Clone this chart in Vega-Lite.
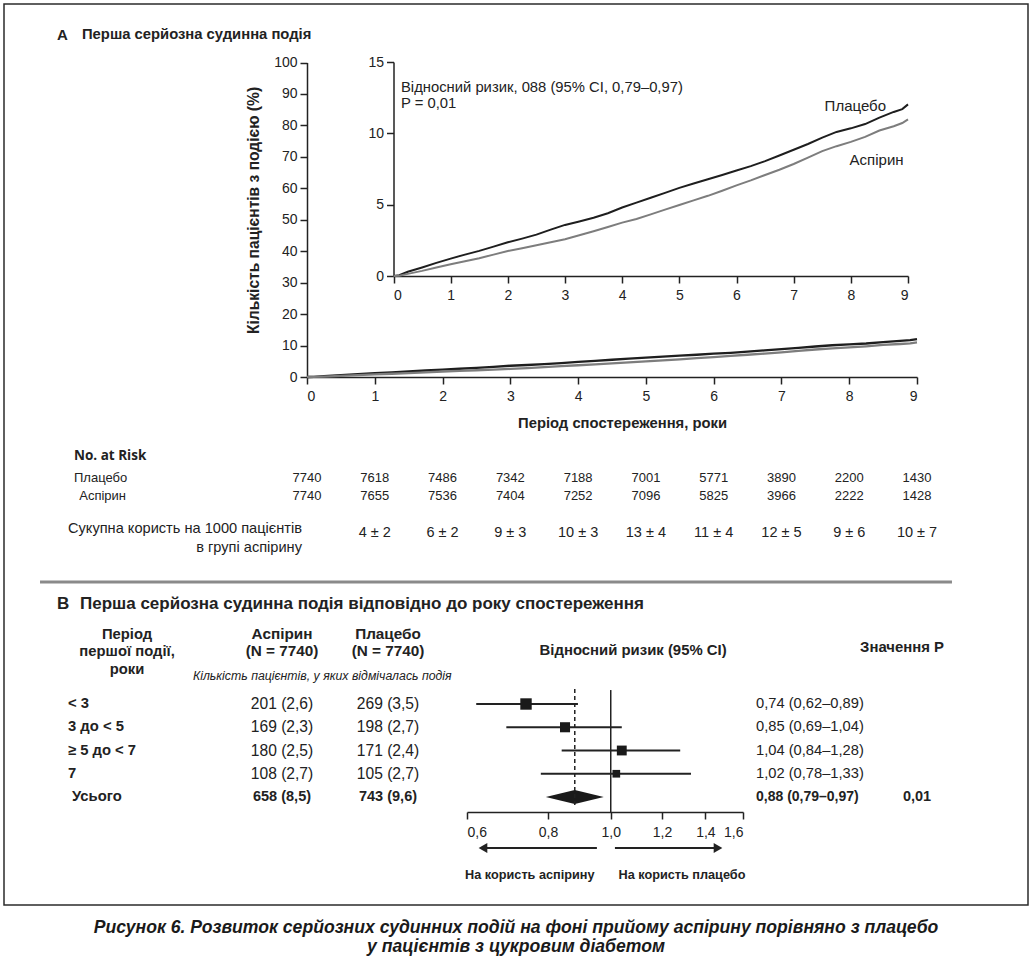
{
  "$schema": "https://vega.github.io/schema/vega-lite/v6.json",
  "width": 1024,
  "height": 901,
  "autosize": {"type": "none"},
  "padding": {"left": 4, "top": 4, "right": 4, "bottom": 52},
  "background": "white",
  "config": {
    "view": {"stroke": "#2b2b2b", "strokeWidth": 1.5},
    "font": "Liberation Sans, Arial, sans-serif",
    "text": {"font": "Liberation Sans, Arial, sans-serif", "color": "#222222", "fontSize": 13},
    "axis": {"grid": false, "domainColor": "#222222", "domainWidth": 1.5, "tickColor": "#222222", "tickWidth": 1.5, "tickSize": 7, "labelFont": "Liberation Sans, Arial, sans-serif", "labelFontSize": 14, "labelColor": "#222222", "titleFont": "Liberation Sans, Arial, sans-serif", "titleFontSize": 14.8, "titleFontWeight": "bold", "titleColor": "#222222"}
  },
  "title": {
    "text": ["Рисунок 6. Розвиток серйозних судинних подій на фоні прийому аспірину порівняно з плацебо", "у пацієнтів з цукровим діабетом"],
    "orient": "bottom", "anchor": "middle", "font": "Liberation Sans, Arial, sans-serif",
    "fontSize": 17.6, "fontWeight": "bold", "fontStyle": "italic", "lineHeight": 19, "offset": 13.5, "color": "#1a1a1a"
  },
  "datasets": {
    "km": [
      {"year": 0, "arm": "Плацебо", "pct": 0}, {"year": 0.1, "arm": "Плацебо", "pct": 0.05}, {"year": 0.25, "arm": "Плацебо", "pct": 0.3}, {"year": 0.5, "arm": "Плацебо", "pct": 0.6}, {"year": 0.75, "arm": "Плацебо", "pct": 0.92}, {"year": 1, "arm": "Плацебо", "pct": 1.22}, {"year": 1.25, "arm": "Плацебо", "pct": 1.5}, {"year": 1.5, "arm": "Плацебо", "pct": 1.76}, {"year": 1.75, "arm": "Плацебо", "pct": 2.06}, {"year": 2, "arm": "Плацебо", "pct": 2.36}, {"year": 2.25, "arm": "Плацебо", "pct": 2.62}, {"year": 2.5, "arm": "Плацебо", "pct": 2.9}, {"year": 2.75, "arm": "Плацебо", "pct": 3.25}, {"year": 3, "arm": "Плацебо", "pct": 3.58}, {"year": 3.25, "arm": "Плацебо", "pct": 3.82}, {"year": 3.5, "arm": "Плацебо", "pct": 4.08}, {"year": 3.75, "arm": "Плацебо", "pct": 4.4}, {"year": 4, "arm": "Плацебо", "pct": 4.8}, {"year": 4.25, "arm": "Плацебо", "pct": 5.14}, {"year": 4.5, "arm": "Плацебо", "pct": 5.48}, {"year": 4.75, "arm": "Плацебо", "pct": 5.83}, {"year": 5, "arm": "Плацебо", "pct": 6.18}, {"year": 5.25, "arm": "Плацебо", "pct": 6.48}, {"year": 5.5, "arm": "Плацебо", "pct": 6.78}, {"year": 5.75, "arm": "Плацебо", "pct": 7.08}, {"year": 6, "arm": "Плацебо", "pct": 7.4}, {"year": 6.25, "arm": "Плацебо", "pct": 7.7}, {"year": 6.5, "arm": "Плацебо", "pct": 8.05}, {"year": 6.75, "arm": "Плацебо", "pct": 8.45}, {"year": 7, "arm": "Плацебо", "pct": 8.85}, {"year": 7.25, "arm": "Плацебо", "pct": 9.25}, {"year": 7.5, "arm": "Плацебо", "pct": 9.7}, {"year": 7.75, "arm": "Плацебо", "pct": 10.1}, {"year": 8, "arm": "Плацебо", "pct": 10.35}, {"year": 8.25, "arm": "Плацебо", "pct": 10.65}, {"year": 8.5, "arm": "Плацебо", "pct": 11.1}, {"year": 8.75, "arm": "Плацебо", "pct": 11.5}, {"year": 8.9, "arm": "Плацебо", "pct": 11.7}, {"year": 9, "arm": "Плацебо", "pct": 12.03},
      {"year": 0, "arm": "Аспірин", "pct": 0}, {"year": 0.1, "arm": "Аспірин", "pct": 0.02}, {"year": 0.25, "arm": "Аспірин", "pct": 0.15}, {"year": 0.5, "arm": "Аспірин", "pct": 0.36}, {"year": 0.75, "arm": "Аспірин", "pct": 0.6}, {"year": 1, "arm": "Аспірин", "pct": 0.82}, {"year": 1.25, "arm": "Аспірин", "pct": 1.03}, {"year": 1.5, "arm": "Аспірин", "pct": 1.25}, {"year": 1.75, "arm": "Аспірин", "pct": 1.5}, {"year": 2, "arm": "Аспірин", "pct": 1.75}, {"year": 2.25, "arm": "Аспірин", "pct": 1.95}, {"year": 2.5, "arm": "Аспірин", "pct": 2.15}, {"year": 2.75, "arm": "Аспірин", "pct": 2.36}, {"year": 3, "arm": "Аспірин", "pct": 2.58}, {"year": 3.25, "arm": "Аспірин", "pct": 2.85}, {"year": 3.5, "arm": "Аспірин", "pct": 3.14}, {"year": 3.75, "arm": "Аспірин", "pct": 3.44}, {"year": 4, "arm": "Аспірин", "pct": 3.74}, {"year": 4.25, "arm": "Аспірин", "pct": 4.0}, {"year": 4.5, "arm": "Аспірин", "pct": 4.32}, {"year": 4.75, "arm": "Аспірин", "pct": 4.65}, {"year": 5, "arm": "Аспірин", "pct": 4.98}, {"year": 5.25, "arm": "Аспірин", "pct": 5.3}, {"year": 5.5, "arm": "Аспірин", "pct": 5.62}, {"year": 5.75, "arm": "Аспірин", "pct": 5.98}, {"year": 6, "arm": "Аспірин", "pct": 6.35}, {"year": 6.25, "arm": "Аспірин", "pct": 6.7}, {"year": 6.5, "arm": "Аспірин", "pct": 7.08}, {"year": 6.75, "arm": "Аспірин", "pct": 7.45}, {"year": 7, "arm": "Аспірин", "pct": 7.85}, {"year": 7.25, "arm": "Аспірин", "pct": 8.3}, {"year": 7.5, "arm": "Аспірин", "pct": 8.75}, {"year": 7.75, "arm": "Аспірин", "pct": 9.1}, {"year": 8, "arm": "Аспірин", "pct": 9.4}, {"year": 8.25, "arm": "Аспірин", "pct": 9.75}, {"year": 8.5, "arm": "Аспірин", "pct": 10.2}, {"year": 8.75, "arm": "Аспірин", "pct": 10.5}, {"year": 8.9, "arm": "Аспірин", "pct": 10.72}, {"year": 9, "arm": "Аспірин", "pct": 10.98}
    ],
    "risk": [
      {"year": 0, "arm": "Плацебо", "n": 7740}, {"year": 1, "arm": "Плацебо", "n": 7618}, {"year": 2, "arm": "Плацебо", "n": 7486}, {"year": 3, "arm": "Плацебо", "n": 7342}, {"year": 4, "arm": "Плацебо", "n": 7188}, {"year": 5, "arm": "Плацебо", "n": 7001}, {"year": 6, "arm": "Плацебо", "n": 5771}, {"year": 7, "arm": "Плацебо", "n": 3890}, {"year": 8, "arm": "Плацебо", "n": 2200}, {"year": 9, "arm": "Плацебо", "n": 1430},
      {"year": 0, "arm": "Аспірин", "n": 7740}, {"year": 1, "arm": "Аспірин", "n": 7655}, {"year": 2, "arm": "Аспірин", "n": 7536}, {"year": 3, "arm": "Аспірин", "n": 7404}, {"year": 4, "arm": "Аспірин", "n": 7252}, {"year": 5, "arm": "Аспірин", "n": 7096}, {"year": 6, "arm": "Аспірин", "n": 5825}, {"year": 7, "arm": "Аспірин", "n": 3966}, {"year": 8, "arm": "Аспірин", "n": 2222}, {"year": 9, "arm": "Аспірин", "n": 1428}
    ],
    "benefit": [
      {"year": 1, "benefit": "4 ± 2"}, {"year": 2, "benefit": "6 ± 2"}, {"year": 3, "benefit": "9 ± 3"}, {"year": 4, "benefit": "10 ± 3"}, {"year": 5, "benefit": "13 ± 4"}, {"year": 6, "benefit": "11 ± 4"}, {"year": 7, "benefit": "12 ± 5"}, {"year": 8, "benefit": "9 ± 6"}, {"year": 9, "benefit": "10 ± 7"}
    ],
    "forest": [
      {"row": 1, "period": "< 3", "aspirin": "201 (2,6)", "placebo": "269 (3,5)", "rr": 0.74, "lo": 0.62, "hi": 0.89, "events": 470, "rrtext": "0,74 (0,62–0,89)", "p": ""},
      {"row": 2, "period": "3 до < 5", "aspirin": "169 (2,3)", "placebo": "198 (2,7)", "rr": 0.85, "lo": 0.69, "hi": 1.04, "events": 367, "rrtext": "0,85 (0,69–1,04)", "p": ""},
      {"row": 3, "period": "≥ 5 до < 7", "aspirin": "180 (2,5)", "placebo": "171 (2,4)", "rr": 1.04, "lo": 0.84, "hi": 1.28, "events": 351, "rrtext": "1,04 (0,84–1,28)", "p": ""},
      {"row": 4, "period": "7", "aspirin": "108 (2,7)", "placebo": "105 (2,7)", "rr": 1.02, "lo": 0.78, "hi": 1.33, "events": 213, "rrtext": "1,02 (0,78–1,33)", "p": ""},
      {"row": 5, "period": "Усього", "aspirin": "658 (8,5)", "placebo": "743 (9,6)", "rr": 0.88, "lo": 0.79, "hi": 0.97, "events": 1401, "rrtext": "0,88 (0,79–0,97)", "p": "0,01"}
    ]
  },
  "layer": [
    {
      "data": {"name": "km"},
      "mark": {"type": "line", "strokeWidth": 2.3},
      "encoding": {
        "x": {"field": "year", "type": "quantitative", "scale": {"domain": [0, 9], "range": [303, 913], "nice": false, "zero": false},
              "axis": {"orient": "bottom", "offset": -528, "values": [0, 1, 2, 3, 4, 5, 6, 7, 8, 9], "format": "d", "labelPadding": 5, "title": "Період спостереження, роки", "titleX": 618, "titleY": 38}},
        "y": {"field": "pct", "type": "quantitative", "scale": {"domain": [0, 100], "range": [373, 58.5], "nice": false, "zero": false},
              "axis": {"orient": "left", "offset": -303, "values": [0, 10, 20, 30, 40, 50, 60, 70, 80, 90, 100], "format": "d", "labelPadding": 3, "title": "Кількість пацієнтів з подією (%)", "titleFontSize": 15.6, "titleX": -46, "titleY": 206}},
        "color": {"field": "arm", "type": "nominal", "scale": {"domain": ["Плацебо", "Аспірин"], "range": ["#1e1e1e", "#7d7d7d"]}, "legend": null}
      }
    },
    {
      "data": {"name": "km"},
      "mark": {"type": "line", "strokeWidth": 2},
      "encoding": {
        "x": {"field": "year", "type": "quantitative", "scale": {"domain": [0, 9], "range": [389.5, 904], "nice": false, "zero": false},
              "axis": {"orient": "bottom", "offset": -629, "values": [0, 1, 2, 3, 4, 5, 6, 7, 8, 9], "format": "d", "labelPadding": 5, "title": null}},
        "y": {"field": "pct", "type": "quantitative", "scale": {"domain": [0, 15], "range": [272, 58], "nice": false, "zero": false},
              "axis": {"orient": "left", "offset": -389.5, "values": [0, 5, 10, 15], "format": "d", "labelPadding": 3, "title": null}},
        "color": {"field": "arm", "type": "nominal", "scale": {"domain": ["Плацебо", "Аспірин"], "range": ["#1e1e1e", "#7d7d7d"]}, "legend": null}
      }
    },
    {
      "data": {"name": "forest"},
      "transform": [{"filter": "datum.row < 5"}],
      "mark": {"type": "rule", "stroke": "#222222", "strokeWidth": 2},
      "encoding": {
        "x": {"field": "lo", "type": "quantitative", "scale": {"type": "log", "domain": [0.6, 1.6], "range": [463, 739], "nice": false},
              "axis": {"orient": "bottom", "offset": -93, "values": [0.6, 0.8, 1.0, 1.2, 1.4, 1.6], "labelExpr": "replace(format(datum.value, '.1f'), '.', ',')", "labelPadding": 6, "title": null}},
        "x2": {"field": "hi"},
        "y": {"field": "row", "type": "quantitative", "scale": {"domain": [1, 5], "range": [700, 793], "nice": false, "zero": false}, "axis": null}
      }
    },
    {
      "data": {"values": [{"t": "A"}]},
      "mark": {"type": "text", "align": "left", "baseline": "middle", "fontSize": 15, "fontWeight": "bold"},
      "encoding": {
        "x": {"datum": -3.688, "type": "quantitative", "scale": {"domain": [0, 9], "range": [303, 913], "nice": false, "zero": false}, "axis": null},
        "y": {"datum": 108.74, "type": "quantitative", "scale": {"domain": [0, 100], "range": [373, 58.5], "nice": false, "zero": false}, "axis": null},
        "text": {"field": "t"}
      }
    },
    {
      "data": {"values": [{"t": "Перша серйозна судинна подія"}]},
      "mark": {"type": "text", "align": "left", "baseline": "middle", "fontSize": 14.8, "fontWeight": "bold"},
      "encoding": {
        "x": {"datum": -3.32, "type": "quantitative", "scale": {"domain": [0, 9], "range": [303, 913], "nice": false, "zero": false}, "axis": null},
        "y": {"datum": 108.74, "type": "quantitative", "scale": {"domain": [0, 100], "range": [373, 58.5], "nice": false, "zero": false}, "axis": null},
        "text": {"field": "t"}
      }
    },
    {
      "data": {"values": [{"t": "No. at Risk"}]},
      "mark": {"type": "text", "align": "left", "baseline": "middle", "fontSize": 13.5, "fontWeight": "bold", "font": "Open Sans, Liberation Sans, sans-serif"},
      "encoding": {
        "x": {"datum": -3.438, "type": "quantitative", "scale": {"domain": [0, 9], "range": [303, 913], "nice": false, "zero": false}, "axis": null},
        "y": {"datum": -25.12, "type": "quantitative", "scale": {"domain": [0, 100], "range": [373, 58.5], "nice": false, "zero": false}, "axis": null},
        "text": {"field": "t"}
      }
    },
    {
      "data": {"values": [{"t": ["Сукупна користь на 1000 пацієнтів", "в групі аспірину"]}]},
      "mark": {"type": "text", "align": "right", "baseline": "middle", "fontSize": 14.6, "lineHeight": 19},
      "encoding": {
        "x": {"datum": -0.074, "type": "quantitative", "scale": {"domain": [0, 9], "range": [303, 913], "nice": false, "zero": false}, "axis": null},
        "y": {"datum": -48.33, "type": "quantitative", "scale": {"domain": [0, 100], "range": [373, 58.5], "nice": false, "zero": false}, "axis": null},
        "text": {"field": "t"}
      }
    },
    {
      "data": {"name": "benefit"},
      "mark": {"type": "text", "align": "center", "baseline": "middle", "fontSize": 14.5},
      "encoding": {
        "x": {"field": "year", "type": "quantitative", "scale": {"domain": [0, 9], "range": [303, 913], "nice": false, "zero": false}, "axis": null},
        "y": {"datum": -49.6, "type": "quantitative", "scale": {"domain": [0, 100], "range": [373, 58.5], "nice": false, "zero": false}, "axis": null},
        "text": {"field": "benefit"}
      }
    },
    {
      "data": {"values": [{"item": "separator"}]},
      "mark": {"type": "rule", "stroke": "#8a8a8a", "strokeWidth": 3},
      "encoding": {
        "x": {"datum": -3.939, "type": "quantitative", "scale": {"domain": [0, 9], "range": [303, 913], "nice": false, "zero": false}, "axis": null},
        "x2": {"datum": 9.516},
        "y": {"datum": -65.18, "type": "quantitative", "scale": {"domain": [0, 100], "range": [373, 58.5], "nice": false, "zero": false}, "axis": null}
      }
    },
    {
      "data": {"name": "risk"},
      "mark": {"type": "text", "align": "center", "baseline": "middle", "fontSize": 13},
      "encoding": {
        "x": {"field": "year", "type": "quantitative", "scale": {"domain": [0, 9], "range": [303, 913], "nice": false, "zero": false}, "axis": null},
        "y": {"field": "arm", "type": "nominal", "scale": {"type": "point", "domain": ["Плацебо", "Аспірин"], "range": [474, 492], "padding": 0}, "axis": null},
        "text": {"field": "n"}
      }
    },
    {
      "data": {"values": [{"arm": "Плацебо"}]},
      "mark": {"type": "text", "align": "left", "baseline": "middle", "fontSize": 13},
      "encoding": {
        "x": {"datum": -3.438, "type": "quantitative", "scale": {"domain": [0, 9], "range": [303, 913], "nice": false, "zero": false}, "axis": null},
        "y": {"field": "arm", "type": "nominal", "scale": {"type": "point", "domain": ["Плацебо", "Аспірин"], "range": [474, 492], "padding": 0}, "axis": null},
        "text": {"field": "arm"}
      }
    },
    {
      "data": {"values": [{"arm": "Аспірин"}]},
      "mark": {"type": "text", "align": "left", "baseline": "middle", "fontSize": 13},
      "encoding": {
        "x": {"datum": -3.36, "type": "quantitative", "scale": {"domain": [0, 9], "range": [303, 913], "nice": false, "zero": false}, "axis": null},
        "y": {"field": "arm", "type": "nominal", "scale": {"type": "point", "domain": ["Плацебо", "Аспірин"], "range": [474, 492], "padding": 0}, "axis": null},
        "text": {"field": "arm"}
      }
    },
    {
      "data": {"values": [{"t": ["Відносний ризик, 088 (95% CI, 0,79–0,97)", "P = 0,01"]}]},
      "mark": {"type": "text", "align": "left", "baseline": "middle", "fontSize": 14.8, "lineHeight": 16},
      "encoding": {
        "x": {"datum": 0.131, "type": "quantitative", "scale": {"domain": [0, 9], "range": [389.5, 904], "nice": false, "zero": false}, "axis": null},
        "y": {"datum": 13.18, "type": "quantitative", "scale": {"domain": [0, 15], "range": [272, 58], "nice": false, "zero": false}, "axis": null},
        "text": {"field": "t"}
      }
    },
    {
      "data": {"values": [{"t": "Плацебо"}]},
      "mark": {"type": "text", "align": "left", "baseline": "middle", "fontSize": 15},
      "encoding": {
        "x": {"datum": 7.541, "type": "quantitative", "scale": {"domain": [0, 9], "range": [389.5, 904], "nice": false, "zero": false}, "axis": null},
        "y": {"datum": 11.92, "type": "quantitative", "scale": {"domain": [0, 15], "range": [272, 58], "nice": false, "zero": false}, "axis": null},
        "text": {"field": "t"}
      }
    },
    {
      "data": {"values": [{"t": "Аспірин"}]},
      "mark": {"type": "text", "align": "left", "baseline": "middle", "fontSize": 15},
      "encoding": {
        "x": {"datum": 7.978, "type": "quantitative", "scale": {"domain": [0, 9], "range": [389.5, 904], "nice": false, "zero": false}, "axis": null},
        "y": {"datum": 8.13, "type": "quantitative", "scale": {"domain": [0, 15], "range": [272, 58], "nice": false, "zero": false}, "axis": null},
        "text": {"field": "t"}
      }
    },
    {
      "data": {"name": "forest"},
      "transform": [{"filter": "datum.row < 5"}],
      "mark": {"type": "point", "shape": "square", "filled": true, "color": "#1a1a1a", "opacity": 1},
      "encoding": {
        "x": {"field": "rr", "type": "quantitative", "scale": {"type": "log", "domain": [0.6, 1.6], "range": [463, 739], "nice": false}, "axis": null},
        "y": {"field": "row", "type": "quantitative", "scale": {"domain": [1, 5], "range": [700, 793], "nice": false, "zero": false}, "axis": null},
        "size": {"field": "events", "type": "quantitative", "scale": {"domain": [0, 470], "range": [0, 130], "zero": true}, "legend": null}
      }
    },
    {
      "data": {"name": "forest"},
      "transform": [{"filter": "datum.row == 5"}],
      "mark": {"type": "point", "shape": "M-1,0L0,-0.24L1,0L0,0.24Z", "size": 3364, "filled": true, "color": "#1a1a1a", "opacity": 1},
      "encoding": {
        "x": {"field": "rr", "type": "quantitative", "scale": {"type": "log", "domain": [0.6, 1.6], "range": [463, 739], "nice": false}, "axis": null},
        "y": {"field": "row", "type": "quantitative", "scale": {"domain": [1, 5], "range": [700, 793], "nice": false, "zero": false}, "axis": null}
      }
    },
    {
      "data": {"values": [{"item": "no effect"}]},
      "mark": {"type": "rule", "stroke": "#222222", "strokeWidth": 1.5},
      "encoding": {
        "x": {"datum": 1, "type": "quantitative", "scale": {"type": "log", "domain": [0.6, 1.6], "range": [463, 739], "nice": false}, "axis": null},
        "y": {"datum": 0.4, "type": "quantitative", "scale": {"domain": [1, 5], "range": [700, 793], "nice": false, "zero": false}, "axis": null},
        "y2": {"datum": 5.645}
      }
    },
    {
      "data": {"name": "forest"},
      "transform": [{"filter": "datum.row == 5"}],
      "mark": {"type": "rule", "stroke": "#222222", "strokeWidth": 1.5, "strokeDash": [4, 3]},
      "encoding": {
        "x": {"field": "rr", "type": "quantitative", "scale": {"type": "log", "domain": [0.6, 1.6], "range": [463, 739], "nice": false}, "axis": null},
        "y": {"datum": 0.35, "type": "quantitative", "scale": {"domain": [1, 5], "range": [700, 793], "nice": false, "zero": false}, "axis": null},
        "y2": {"datum": 5.43}
      }
    },
    {
      "data": {"values": [{"item": "favours aspirin"}]},
      "mark": {"type": "rule", "stroke": "#222222", "strokeWidth": 2},
      "encoding": {
        "x": {"datum": 0.952, "type": "quantitative", "scale": {"type": "log", "domain": [0.6, 1.6], "range": [463, 739], "nice": false}, "axis": null},
        "x2": {"datum": 0.64},
        "y": {"datum": 7.19, "type": "quantitative", "scale": {"domain": [1, 5], "range": [700, 793], "nice": false, "zero": false}, "axis": null}
      }
    },
    {
      "data": {"values": [{"item": "favours placebo"}]},
      "mark": {"type": "rule", "stroke": "#222222", "strokeWidth": 2},
      "encoding": {
        "x": {"datum": 1.015, "type": "quantitative", "scale": {"type": "log", "domain": [0.6, 1.6], "range": [463, 739], "nice": false}, "axis": null},
        "x2": {"datum": 1.46},
        "y": {"datum": 7.19, "type": "quantitative", "scale": {"domain": [1, 5], "range": [700, 793], "nice": false, "zero": false}, "axis": null}
      }
    },
    {
      "data": {"values": [{"item": "arrow head left"}]},
      "mark": {"type": "point", "shape": "triangle-left", "size": 100, "filled": true, "color": "#222222", "opacity": 1},
      "encoding": {
        "x": {"datum": 0.635, "type": "quantitative", "scale": {"type": "log", "domain": [0.6, 1.6], "range": [463, 739], "nice": false}, "axis": null},
        "y": {"datum": 7.19, "type": "quantitative", "scale": {"domain": [1, 5], "range": [700, 793], "nice": false, "zero": false}, "axis": null}
      }
    },
    {
      "data": {"values": [{"item": "arrow head right"}]},
      "mark": {"type": "point", "shape": "triangle-right", "size": 100, "filled": true, "color": "#222222", "opacity": 1},
      "encoding": {
        "x": {"datum": 1.464, "type": "quantitative", "scale": {"type": "log", "domain": [0.6, 1.6], "range": [463, 739], "nice": false}, "axis": null},
        "y": {"datum": 7.19, "type": "quantitative", "scale": {"domain": [1, 5], "range": [700, 793], "nice": false, "zero": false}, "axis": null}
      }
    },
    {
      "data": {"values": [{"t": "На користь аспірину"}]},
      "mark": {"type": "text", "align": "center", "baseline": "middle", "fontSize": 12.7, "fontWeight": "bold"},
      "encoding": {
        "x": {"datum": 0.75, "type": "quantitative", "scale": {"type": "log", "domain": [0.6, 1.6], "range": [463, 739], "nice": false}, "axis": null},
        "y": {"datum": 8.355, "type": "quantitative", "scale": {"domain": [1, 5], "range": [700, 793], "nice": false, "zero": false}, "axis": null},
        "text": {"field": "t"}
      }
    },
    {
      "data": {"values": [{"t": "На користь плацебо"}]},
      "mark": {"type": "text", "align": "center", "baseline": "middle", "fontSize": 12.7, "fontWeight": "bold"},
      "encoding": {
        "x": {"datum": 1.288, "type": "quantitative", "scale": {"type": "log", "domain": [0.6, 1.6], "range": [463, 739], "nice": false}, "axis": null},
        "y": {"datum": 8.355, "type": "quantitative", "scale": {"domain": [1, 5], "range": [700, 793], "nice": false, "zero": false}, "axis": null},
        "text": {"field": "t"}
      }
    },
    {
      "data": {"values": [{"t": "B"}]},
      "mark": {"type": "text", "align": "left", "baseline": "middle", "fontSize": 17, "fontWeight": "bold"},
      "encoding": {
        "x": {"datum": -0.0514, "type": "quantitative", "scale": {"domain": [0, 1, 2, 3, 4], "range": [64, 278, 384, 752, 913], "nice": false, "zero": false}, "axis": null},
        "y": {"datum": -3.3, "type": "quantitative", "scale": {"domain": [1, 5], "range": [700, 793], "nice": false, "zero": false}, "axis": null},
        "text": {"field": "t"}
      }
    },
    {
      "data": {"values": [{"t": "Перша серйозна судинна подія відповідно до року спостереження"}]},
      "mark": {"type": "text", "align": "left", "baseline": "middle", "fontSize": 17, "fontWeight": "bold"},
      "encoding": {
        "x": {"datum": 0.0561, "type": "quantitative", "scale": {"domain": [0, 1, 2, 3, 4], "range": [64, 278, 384, 752, 913], "nice": false, "zero": false}, "axis": null},
        "y": {"datum": -3.3, "type": "quantitative", "scale": {"domain": [1, 5], "range": [700, 793], "nice": false, "zero": false}, "axis": null},
        "text": {"field": "t"}
      }
    },
    {
      "data": {"values": [{"t": ["Період", "першої події,", "роки"]}]},
      "mark": {"type": "text", "align": "center", "baseline": "middle", "fontSize": 14.8, "fontWeight": "bold", "lineHeight": 17.5},
      "encoding": {
        "x": {"datum": 0.276, "type": "quantitative", "scale": {"domain": [0, 1, 2, 3, 4], "range": [64, 278, 384, 752, 913], "nice": false, "zero": false}, "axis": null},
        "y": {"datum": -1.968, "type": "quantitative", "scale": {"domain": [1, 5], "range": [700, 793], "nice": false, "zero": false}, "axis": null},
        "text": {"field": "t"}
      }
    },
    {
      "data": {"values": [{"t": ["Аспірин", "(N = 7740)"]}]},
      "mark": {"type": "text", "align": "center", "baseline": "middle", "fontSize": 15.3, "fontWeight": "bold", "lineHeight": 17},
      "encoding": {
        "x": {"datum": 1, "type": "quantitative", "scale": {"domain": [0, 1, 2, 3, 4], "range": [64, 278, 384, 752, 913], "nice": false, "zero": false}, "axis": null},
        "y": {"datum": -2.011, "type": "quantitative", "scale": {"domain": [1, 5], "range": [700, 793], "nice": false, "zero": false}, "axis": null},
        "text": {"field": "t"}
      }
    },
    {
      "data": {"values": [{"t": ["Плацебо", "(N = 7740)"]}]},
      "mark": {"type": "text", "align": "center", "baseline": "middle", "fontSize": 15.3, "fontWeight": "bold", "lineHeight": 17},
      "encoding": {
        "x": {"datum": 2, "type": "quantitative", "scale": {"domain": [0, 1, 2, 3, 4], "range": [64, 278, 384, 752, 913], "nice": false, "zero": false}, "axis": null},
        "y": {"datum": -2.011, "type": "quantitative", "scale": {"domain": [1, 5], "range": [700, 793], "nice": false, "zero": false}, "axis": null},
        "text": {"field": "t"}
      }
    },
    {
      "data": {"values": [{"t": "Кількість пацієнтів, у яких відмічалась подія"}]},
      "mark": {"type": "text", "align": "center", "baseline": "middle", "fontSize": 12.3, "fontStyle": "italic"},
      "encoding": {
        "x": {"datum": 1.38, "type": "quantitative", "scale": {"domain": [0, 1, 2, 3, 4], "range": [64, 278, 384, 752, 913], "nice": false, "zero": false}, "axis": null},
        "y": {"datum": -0.204, "type": "quantitative", "scale": {"domain": [1, 5], "range": [700, 793], "nice": false, "zero": false}, "axis": null},
        "text": {"field": "t"}
      }
    },
    {
      "data": {"values": [{"t": "Відносний ризик (95% CI)"}]},
      "mark": {"type": "text", "align": "center", "baseline": "middle", "fontSize": 14.9, "fontWeight": "bold"},
      "encoding": {
        "x": {"datum": 2.666, "type": "quantitative", "scale": {"domain": [0, 1, 2, 3, 4], "range": [64, 278, 384, 752, 913], "nice": false, "zero": false}, "axis": null},
        "y": {"datum": -1.28, "type": "quantitative", "scale": {"domain": [1, 5], "range": [700, 793], "nice": false, "zero": false}, "axis": null},
        "text": {"field": "t"}
      }
    },
    {
      "data": {"values": [{"t": "Значення P"}]},
      "mark": {"type": "text", "align": "center", "baseline": "middle", "fontSize": 14.9, "fontWeight": "bold"},
      "encoding": {
        "x": {"datum": 3.907, "type": "quantitative", "scale": {"domain": [0, 1, 2, 3, 4], "range": [64, 278, 384, 752, 913], "nice": false, "zero": false}, "axis": null},
        "y": {"datum": -1.41, "type": "quantitative", "scale": {"domain": [1, 5], "range": [700, 793], "nice": false, "zero": false}, "axis": null},
        "text": {"field": "t"}
      }
    },
    {
      "data": {"name": "forest"},
      "transform": [{"filter": "datum.row < 5"}],
      "mark": {"type": "text", "align": "left", "baseline": "middle", "fontSize": 14.8, "fontWeight": "bold"},
      "encoding": {
        "x": {"datum": 0, "type": "quantitative", "scale": {"domain": [0, 1, 2, 3, 4], "range": [64, 278, 384, 752, 913], "nice": false, "zero": false}, "axis": null},
        "y": {"field": "row", "type": "quantitative", "scale": {"domain": [1, 5], "range": [700, 793], "nice": false, "zero": false}, "axis": null},
        "text": {"field": "period"}
      }
    },
    {
      "data": {"name": "forest"},
      "transform": [{"filter": "datum.row == 5"}],
      "mark": {"type": "text", "align": "left", "baseline": "middle", "fontSize": 14.8, "fontWeight": "bold"},
      "encoding": {
        "x": {"datum": 0.019, "type": "quantitative", "scale": {"domain": [0, 1, 2, 3, 4], "range": [64, 278, 384, 752, 913], "nice": false, "zero": false}, "axis": null},
        "y": {"field": "row", "type": "quantitative", "scale": {"domain": [1, 5], "range": [700, 793], "nice": false, "zero": false}, "axis": null},
        "text": {"field": "period"}
      }
    },
    {
      "data": {"name": "forest"},
      "transform": [{"filter": "datum.row < 5"}],
      "mark": {"type": "text", "align": "center", "baseline": "middle", "fontSize": 15.6},
      "encoding": {
        "x": {"datum": 1, "type": "quantitative", "scale": {"domain": [0, 1, 2, 3, 4], "range": [64, 278, 384, 752, 913], "nice": false, "zero": false}, "axis": null},
        "y": {"field": "row", "type": "quantitative", "scale": {"domain": [1, 5], "range": [700, 793], "nice": false, "zero": false}, "axis": null},
        "text": {"field": "aspirin"}
      }
    },
    {
      "data": {"name": "forest"},
      "transform": [{"filter": "datum.row == 5"}],
      "mark": {"type": "text", "align": "center", "baseline": "middle", "fontSize": 14.5, "fontWeight": "bold"},
      "encoding": {
        "x": {"datum": 1, "type": "quantitative", "scale": {"domain": [0, 1, 2, 3, 4], "range": [64, 278, 384, 752, 913], "nice": false, "zero": false}, "axis": null},
        "y": {"field": "row", "type": "quantitative", "scale": {"domain": [1, 5], "range": [700, 793], "nice": false, "zero": false}, "axis": null},
        "text": {"field": "aspirin"}
      }
    },
    {
      "data": {"name": "forest"},
      "transform": [{"filter": "datum.row < 5"}],
      "mark": {"type": "text", "align": "center", "baseline": "middle", "fontSize": 15.6},
      "encoding": {
        "x": {"datum": 2, "type": "quantitative", "scale": {"domain": [0, 1, 2, 3, 4], "range": [64, 278, 384, 752, 913], "nice": false, "zero": false}, "axis": null},
        "y": {"field": "row", "type": "quantitative", "scale": {"domain": [1, 5], "range": [700, 793], "nice": false, "zero": false}, "axis": null},
        "text": {"field": "placebo"}
      }
    },
    {
      "data": {"name": "forest"},
      "transform": [{"filter": "datum.row == 5"}],
      "mark": {"type": "text", "align": "center", "baseline": "middle", "fontSize": 14.5, "fontWeight": "bold"},
      "encoding": {
        "x": {"datum": 2, "type": "quantitative", "scale": {"domain": [0, 1, 2, 3, 4], "range": [64, 278, 384, 752, 913], "nice": false, "zero": false}, "axis": null},
        "y": {"field": "row", "type": "quantitative", "scale": {"domain": [1, 5], "range": [700, 793], "nice": false, "zero": false}, "axis": null},
        "text": {"field": "placebo"}
      }
    },
    {
      "data": {"name": "forest"},
      "transform": [{"filter": "datum.row < 5"}],
      "mark": {"type": "text", "align": "left", "baseline": "middle", "fontSize": 14.7},
      "encoding": {
        "x": {"datum": 3, "type": "quantitative", "scale": {"domain": [0, 1, 2, 3, 4], "range": [64, 278, 384, 752, 913], "nice": false, "zero": false}, "axis": null},
        "y": {"field": "row", "type": "quantitative", "scale": {"domain": [1, 5], "range": [700, 793], "nice": false, "zero": false}, "axis": null},
        "text": {"field": "rrtext"}
      }
    },
    {
      "data": {"name": "forest"},
      "transform": [{"filter": "datum.row == 5"}],
      "mark": {"type": "text", "align": "left", "baseline": "middle", "fontSize": 14, "fontWeight": "bold"},
      "encoding": {
        "x": {"datum": 3, "type": "quantitative", "scale": {"domain": [0, 1, 2, 3, 4], "range": [64, 278, 384, 752, 913], "nice": false, "zero": false}, "axis": null},
        "y": {"field": "row", "type": "quantitative", "scale": {"domain": [1, 5], "range": [700, 793], "nice": false, "zero": false}, "axis": null},
        "text": {"field": "rrtext"}
      }
    },
    {
      "data": {"name": "forest"},
      "transform": [{"filter": "datum.row == 5"}],
      "mark": {"type": "text", "align": "center", "baseline": "middle", "fontSize": 14.5, "fontWeight": "bold"},
      "encoding": {
        "x": {"datum": 4, "type": "quantitative", "scale": {"domain": [0, 1, 2, 3, 4], "range": [64, 278, 384, 752, 913], "nice": false, "zero": false}, "axis": null},
        "y": {"field": "row", "type": "quantitative", "scale": {"domain": [1, 5], "range": [700, 793], "nice": false, "zero": false}, "axis": null},
        "text": {"field": "p"}
      }
    }
  ],
  "resolve": {"scale": {"x": "independent", "y": "independent", "size": "independent"}}
}
